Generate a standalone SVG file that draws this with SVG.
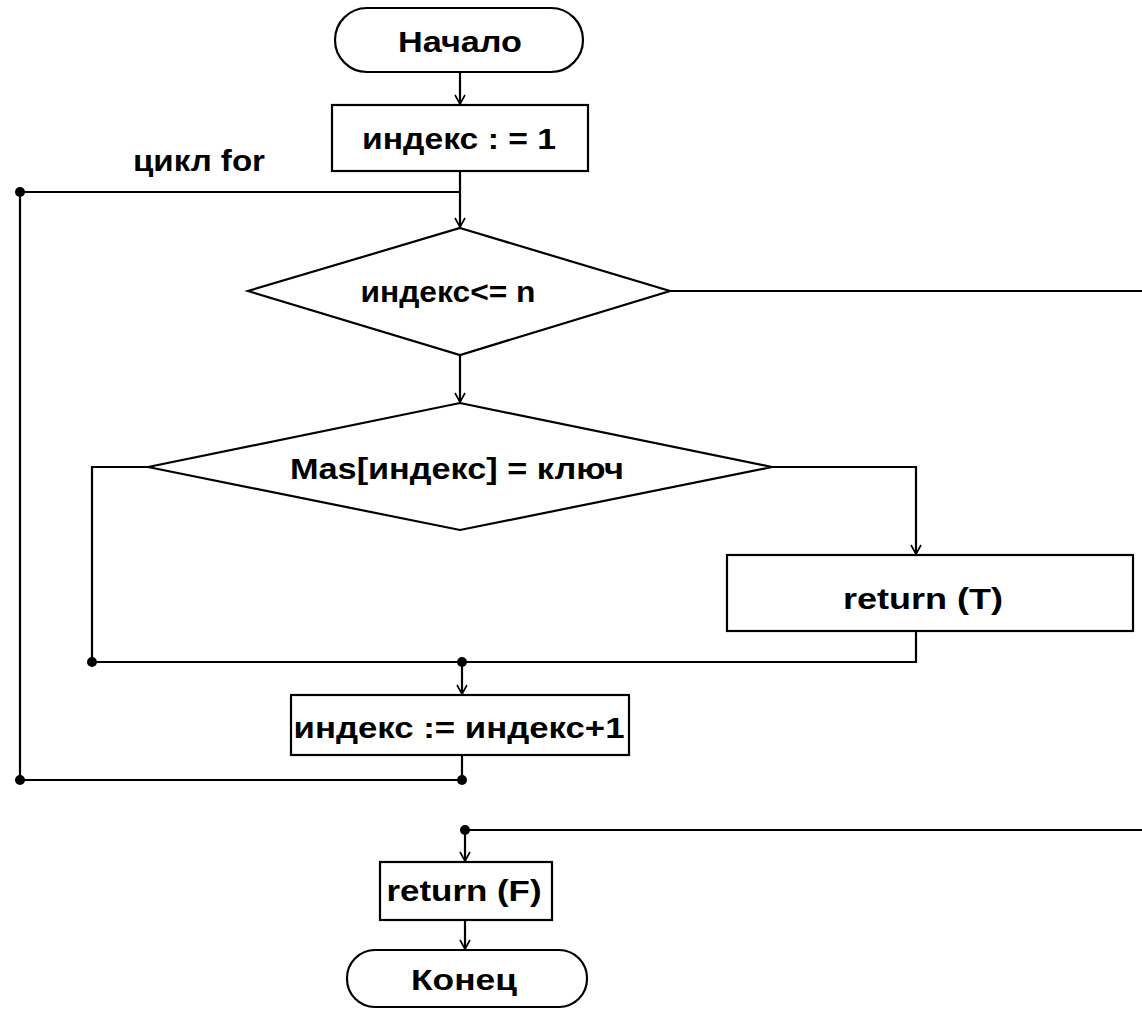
<svg xmlns="http://www.w3.org/2000/svg" width="1142" height="1009" viewBox="0 0 1142 1009">
<defs>
<style>
.shape{fill:#fff;stroke:#000;stroke-width:2.2}
.ln{fill:none;stroke:#000;stroke-width:2.2}
.t{font-family:"Liberation Sans",Arial,sans-serif;font-weight:bold;font-size:29px;fill:#000;text-anchor:middle}
.dot{fill:#000}
</style>
<marker id="arr" markerWidth="12" markerHeight="12" refX="10" refY="6" orient="auto" markerUnits="userSpaceOnUse">
<path d="M1,1 L10,6 L1,11" fill="none" stroke="#000" stroke-width="1.6"/>
</marker>
</defs>
<rect width="1142" height="1009" fill="#fff"/>
<g id="connectors">
<line class="ln" x1="460" y1="72" x2="460" y2="104" marker-end="url(#arr)"/>
<line class="ln" x1="460" y1="171" x2="460" y2="227" marker-end="url(#arr)"/>
<polyline class="ln" points="20,192 460,192"/>
<polyline class="ln" points="670,291 1142,291"/>
<line class="ln" x1="460" y1="355" x2="460" y2="402" marker-end="url(#arr)"/>
<polyline class="ln" points="148,467 92,467 92,662"/>
<polyline class="ln" points="772,467 916,467 916,554" marker-end="url(#arr)"/>
<polyline class="ln" points="916,631 916,662 92,662"/>
<line class="ln" x1="462" y1="662" x2="462" y2="694" marker-end="url(#arr)"/>
<polyline class="ln" points="462,755 462,780 20,780 20,192"/>
<polyline class="ln" points="1142,830 465,830"/>
<line class="ln" x1="465" y1="830" x2="465" y2="861" marker-end="url(#arr)"/>
<line class="ln" x1="465" y1="920" x2="465" y2="949" marker-end="url(#arr)"/>
<circle class="dot" cx="20" cy="192" r="5"/>
<circle class="dot" cx="20" cy="780" r="5"/>
<circle class="dot" cx="92" cy="662" r="5"/>
<circle class="dot" cx="462" cy="662" r="5"/>
<circle class="dot" cx="462" cy="780" r="5"/>
<circle class="dot" cx="465" cy="830" r="5"/>
</g>
<g id="label-for">
<text class="t" x="199" y="171" textLength="132" lengthAdjust="spacingAndGlyphs">цикл for</text>
</g>
<g id="start">
<rect class="shape" x="335" y="8" width="248" height="64" rx="32" ry="32"/>
<text class="t" x="460" y="52" textLength="124" lengthAdjust="spacingAndGlyphs">Начало</text>
</g>
<g id="init">
<rect class="shape" x="332" y="105" width="256" height="66"/>
<text class="t" x="459" y="149" textLength="194" lengthAdjust="spacingAndGlyphs">индекс : = 1</text>
</g>
<g id="cond1">
<polygon class="shape" points="460,228 670,291 460,355 248,291"/>
<text class="t" x="448" y="302" textLength="175" lengthAdjust="spacingAndGlyphs">индекс&lt;= n</text>
</g>
<g id="cond2">
<polygon class="shape" points="460,403 772,467 460,530 148,467"/>
<text class="t" x="457" y="479" textLength="334" lengthAdjust="spacingAndGlyphs">Mas[индекс] = ключ</text>
</g>
<g id="retT">
<rect class="shape" x="727" y="555" width="406" height="76"/>
<text class="t" x="923" y="609" textLength="160" lengthAdjust="spacingAndGlyphs">return (T)</text>
</g>
<g id="incr">
<rect class="shape" x="291" y="695" width="338" height="60"/>
<text class="t" x="459" y="738" textLength="331" lengthAdjust="spacingAndGlyphs">индекс := индекс+1</text>
</g>
<g id="retF">
<rect class="shape" x="380" y="862" width="172" height="58"/>
<text class="t" x="464" y="901" textLength="155" lengthAdjust="spacingAndGlyphs">return (F)</text>
</g>
<g id="end">
<rect class="shape" x="347" y="950" width="240" height="57" rx="28" ry="28"/>
<text class="t" x="464" y="990" textLength="106" lengthAdjust="spacingAndGlyphs">Конец</text>
</g>
</svg>
